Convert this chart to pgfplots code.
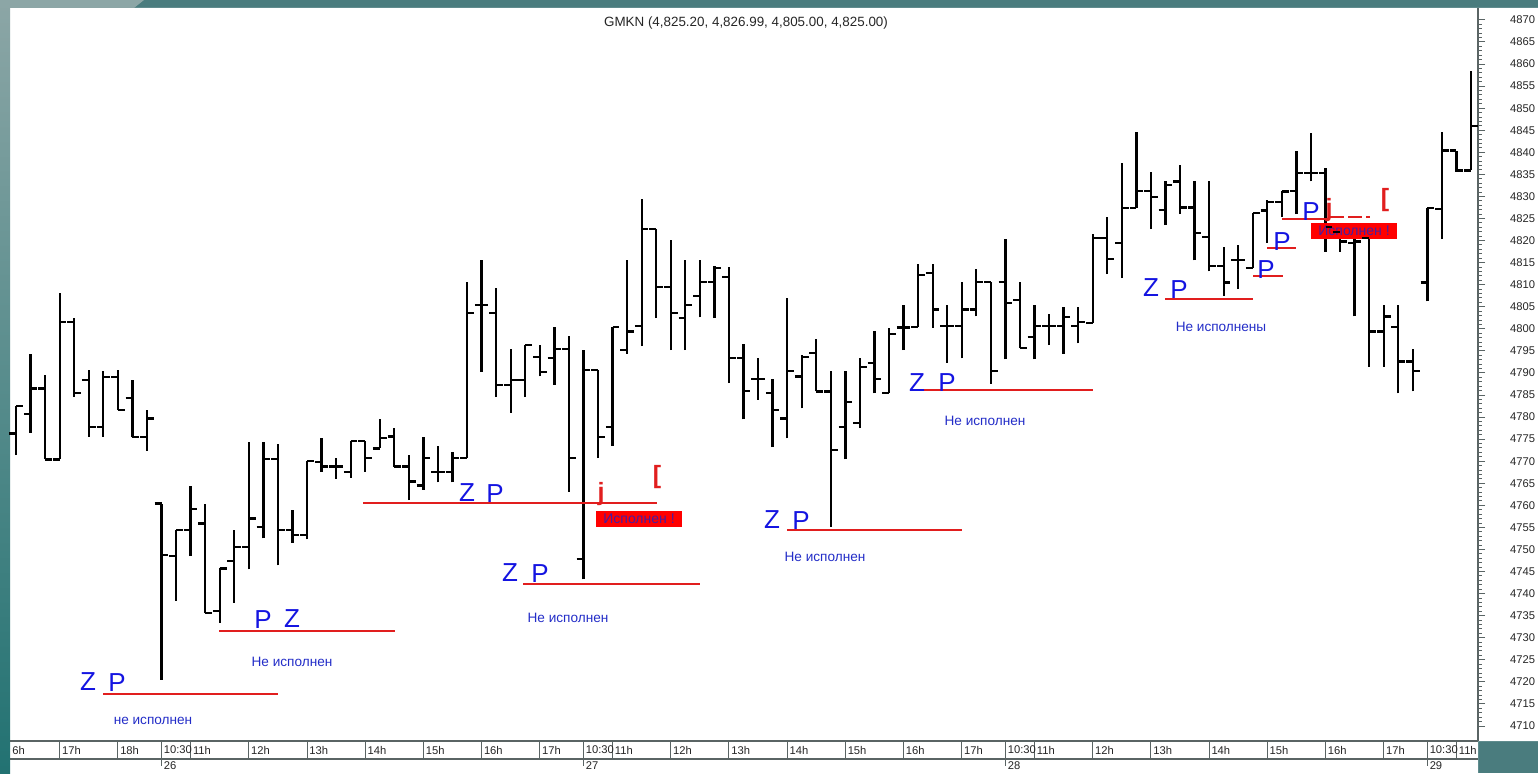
\documentclass[border=0pt]{standalone}
\usepackage{pgfplots}
\pgfplotsset{compat=1.18}
\usepackage{pgfplotstable}
\usepackage{fontspec}
\setmainfont{Liberation Sans}
\definecolor{frameteal}{RGB}{74,124,126}
\definecolor{frametop}{RGB}{140,166,166}
\definecolor{framebot}{RGB}{34,114,114}
\definecolor{zblue}{RGB}{20,20,225}
\definecolor{lblue}{RGB}{35,45,200}
\definecolor{lvlred}{RGB}{225,30,30}
\definecolor{boxtxt}{RGB}{70,30,160}
\definecolor{axgray}{RGB}{90,100,100}

\tikzset{
  zp/.style={text=zblue, font=\fontsize{13}{13}\selectfont, inner sep=0pt},
  ni/.style={text=lblue, font=\fontsize{6.8}{7}\selectfont, inner sep=0pt},
  rs/.style={text=lvlred, font=\fontsize{12.5}{13}\selectfont\bfseries, inner sep=0pt},
  bt/.style={text=boxtxt, font=\fontsize{7}{7}\selectfont, inner sep=0pt},
  hl/.style={font=\fontsize{5.6}{6}\selectfont, text=black!85, anchor=west, inner sep=0.5pt},
}

\pgfdeclareplotmark{ohlcopen}{\pgfpathmoveto{\pgfqpoint{-3.4pt}{0pt}}\pgfpathlineto{\pgfqpoint{0pt}{0pt}}\pgfusepathqstroke}
\pgfdeclareplotmark{ohlcclose}{\pgfpathmoveto{\pgfqpoint{0pt}{0pt}}\pgfpathlineto{\pgfqpoint{3.4pt}{0pt}}\pgfusepathqstroke}

% bar index n (15-minute bars), open, high, low, close
\pgfplotstableread{
n o h l c
-10 4776.3 4782.5 4771.4 4782.5
-9 4780.7 4794.4 4776.4 4786.5
-8 4786.5 4789.5 4770.4 4770.4
-7 4770.4 4808.2 4770.4 4801.6
-6 4801.6 4802.5 4784.6 4785.5
-5 4788.4 4790.6 4775.5 4777.8
-4 4777.8 4790.5 4775.5 4789.0
-3 4789.0 4790.6 4781.6 4781.6
-2 4784.4 4788.5 4775.4 4775.4
-1 4775.4 4781.6 4772.4 4779.7
0 4760.4 4760.4 4720.5 4748.7
1 4748.5 4754.4 4738.4 4754.4
2 4754.4 4764.3 4748.5 4759.2
3 4755.9 4760.4 4735.6 4735.6
4 4736.1 4745.7 4733.4 4745.7
5 4747.4 4754.4 4737.9 4750.6
6 4750.6 4774.4 4745.5 4757.0
7 4755.1 4774.4 4752.5 4770.5
8 4770.5 4773.9 4746.4 4754.4
9 4754.4 4758.9 4751.5 4753.2
10 4753.2 4770.1 4752.3 4770.0
11 4769.9 4775.2 4767.6 4768.8
12 4768.8 4770.7 4766.0 4768.8
13 4767.6 4774.6 4766.3 4774.6
14 4774.6 4774.6 4767.6 4770.8
15 4772.9 4779.6 4772.9 4775.2
16 4775.6 4777.6 4768.8 4768.8
17 4768.8 4771.4 4761.2 4765.4
18 4764.5 4775.6 4763.5 4770.7
19 4767.6 4773.5 4765.2 4767.6
20 4767.6 4772.2 4765.2 4770.7
21 4770.7 4810.7 4770.7 4803.5
22 4805.4 4815.6 4790.3 4805.4
23 4803.5 4809.2 4784.5 4787.3
24 4787.3 4795.4 4781.0 4788.4
25 4788.4 4796.3 4784.5 4796.3
26 4793.7 4796.3 4789.2 4790.3
27 4793.3 4800.5 4787.3 4795.4
28 4795.4 4798.4 4763.1 4770.7
29 4747.8 4795.2 4743.2 4790.7
30 4790.7 4790.7 4770.7 4775.4
31 4777.7 4800.5 4773.5 4800.5
32 4795.2 4815.6 4794.3 4799.4
33 4800.6 4829.4 4796.1 4822.6
34 4822.6 4822.6 4802.4 4809.4
35 4809.4 4820.1 4795.2 4803.5
36 4802.4 4815.6 4795.2 4805.4
37 4807.4 4815.5 4802.6 4810.7
38 4810.7 4814.2 4802.4 4813.7
39 4811.7 4813.9 4787.7 4793.3
40 4793.3 4796.6 4779.5 4786.0
41 4788.6 4793.3 4783.9 4788.6
42 4785.5 4788.6 4773.2 4781.6
43 4779.7 4806.9 4775.2 4790.5
44 4789.2 4794.1 4782.0 4793.7
45 4794.5 4797.6 4785.8 4785.8
46 4785.8 4790.5 4755.2 4772.5
47 4777.7 4790.5 4770.4 4783.5
48 4778.7 4793.5 4777.5 4791.3
49 4792.2 4799.6 4785.4 4788.6
50 4785.5 4800.3 4785.5 4798.8
51 4800.3 4805.4 4795.2 4800.3
52 4800.5 4814.8 4800.5 4812.2
53 4812.7 4814.8 4800.3 4804.4
54 4800.6 4805.4 4792.3 4800.6
55 4800.6 4810.7 4793.3 4804.4
56 4804.4 4813.5 4802.8 4810.7
57 4810.7 4810.7 4787.5 4790.5
58 4810.7 4820.3 4793.1 4805.8
59 4806.5 4810.7 4795.6 4795.6
60 4798.2 4805.4 4793.1 4800.6
61 4800.6 4803.4 4796.3 4800.6
62 4800.6 4805.0 4794.3 4802.6
63 4800.6 4804.9 4796.7 4801.6
64 4801.4 4821.6 4801.4 4820.5
65 4820.5 4825.3 4812.4 4815.8
66 4819.5 4837.5 4811.5 4827.3
67 4827.3 4844.7 4827.3 4831.3
68 4831.3 4835.6 4822.6 4829.8
69 4826.9 4833.4 4823.5 4832.6
70 4833.4 4837.1 4826.0 4827.5
71 4827.5 4833.4 4815.5 4821.7
72 4820.8 4833.4 4813.0 4814.3
73 4814.3 4818.5 4807.5 4810.5
74 4815.6 4819.0 4809.0 4815.6
75 4813.7 4826.3 4813.7 4826.3
76 4826.8 4829.1 4819.5 4828.8
77 4828.8 4831.3 4825.3 4831.1
78 4831.3 4840.4 4826.0 4835.4
79 4835.4 4844.3 4833.4 4835.4
80 4835.4 4836.4 4817.5 4823.0
81 4822.0 4823.5 4817.5 4819.8
82 4819.4 4821.6 4802.8 4819.8
83 4820.5 4820.5 4791.4 4799.4
84 4799.4 4805.4 4791.4 4802.8
85 4800.5 4805.4 4785.4 4792.6
86 4792.6 4795.4 4785.8 4790.5
87 4810.5 4827.3 4806.2 4827.3
88 4827.1 4844.5 4820.3 4840.4
89 4840.4 4840.4 4835.6 4835.9
90 4835.9 4858.5 4835.9 4846.0
}\bars

\begin{document}
\begin{tikzpicture}
\useasboundingbox (0,0) rectangle (769pt,386.5pt);
\fill[frameteal] (0,0) rectangle (769pt,386.5pt);
\fill[white] (5pt,0) -- (739pt,0) -- (739pt,16pt) -- (769pt,16pt) -- (769pt,382.5pt) -- (5pt,382.5pt) -- cycle;
\shade[top color=frametop, bottom color=framebot] (0,0) rectangle (5pt,386.5pt);
\fill[frametop] (0,382.5pt) -- (0,386.5pt) -- (72pt,386.5pt) -- (67pt,382.5pt) -- cycle;
\begin{axis}[
  at={(5pt,16pt)}, anchor=south west,
  scale only axis, width=734pt, height=366.5pt,
  xmin=10, xmax=1478, ymin=4706.6, ymax=4872.7,
  axis x line=none,
  axis y line*=right,
  y axis line style={axgray, line width=0.9pt},
  ytick={4710,4715,...,4870},
  minor y tick num=4,
  ytick align=outside,
  major tick length=3.5pt, minor tick length=1.8pt,
  every tick/.style={axgray, line width=0.5pt},
  yticklabel style={font=\fontsize{5.6}{6}\selectfont, anchor=west, xshift=9pt, text=black!85},
  /pgf/number format/assume math mode=true,
  /pgf/number format/1000 sep={},
  scaled y ticks=false,
  clip=false,
]
% high-low ranges (vertical segments from low to high)
\addplot [black, line width=1.15pt, mark=none, forget plot, -,
  quiver={u=0, v=\thisrow{h}-\thisrow{l}}]
  table [x expr=161.5+14.55*\thisrow{n}, y=l] {\bars};
% open ticks
\addplot [only marks, mark=ohlcopen, mark options={draw=black, line width=1.1pt}, forget plot]
  table [x expr=161.5+14.55*\thisrow{n}, y=o] {\bars};
% close ticks
\addplot [only marks, mark=ohlcclose, mark options={draw=black, line width=1.1pt}, forget plot]
  table [x expr=161.5+14.55*\thisrow{n}, y=c] {\bars};

% order levels
\addplot [lvlred, line width=1pt, forget plot] coordinates {(103,4717.25) (278,4717.25)};
\addplot [lvlred, line width=1pt, forget plot] coordinates {(219,4731.53) (395,4731.53)};
\addplot [lvlred, line width=1pt, forget plot] coordinates {(363,4760.54) (657,4760.54)};
\addplot [lvlred, line width=1pt, forget plot] coordinates {(523,4742.07) (700,4742.07)};
\addplot [lvlred, line width=1pt, forget plot] coordinates {(787,4754.31) (962,4754.31)};
\addplot [lvlred, line width=1pt, forget plot] coordinates {(917,4786.03) (1093,4786.03)};
\addplot [lvlred, line width=1pt, forget plot] coordinates {(1165,4806.70) (1253,4806.70)};
\addplot [lvlred, line width=1pt, forget plot] coordinates {(1253,4811.98) (1283,4811.98)};
\addplot [lvlred, line width=1pt, forget plot] coordinates {(1267,4818.26) (1296,4818.26)};
\addplot [lvlred, line width=1pt, forget plot] coordinates {(1282,4824.83) (1330,4824.83)};
\addplot [lvlred, line width=0.8pt, dash pattern=on 7pt off 2pt, forget plot] coordinates {(1330,4825.35) (1370,4825.35)};

% executed boxes
\fill[red] (596,4758.73) rectangle (682,4755.10);
\node[bt] at (639,4756.91) {Исполнен !};
\fill[red] (1311,4824.0) rectangle (1397,4820.37);
\node[bt] at (1354,4822.18) {Исполнен !};

% letters
\node[zp] at (88,4719.97) {Z};
\node[zp] at (117,4719.75) {P};
\node[zp] at (263,4734.02) {P};
\node[zp] at (292,4734.25) {Z};
\node[zp] at (467,4762.80) {Z};
\node[zp] at (495,4762.58) {P};
\node[zp] at (510,4744.67) {Z};
\node[zp] at (540,4744.44) {P};
\node[zp] at (772,4756.68) {Z};
\node[zp] at (801,4756.46) {P};
\node[zp] at (917,4787.73) {Z};
\node[zp] at (947,4787.73) {P};
\node[zp] at (1151,4809.26) {Z};
\node[zp] at (1179,4808.81) {P};
\node[zp] at (1266,4813.34) {P};
\node[zp] at (1282,4819.69) {P};
\node[zp] at (1311,4826.49) {P};
\node[rs] at (601,4762.58) {j};
\node[rs] at (657,4766.43) {[};
\node[rs] at (1329,4826.94) {j};
\node[rs] at (1385,4829.2) {[};

% status texts
\node[ni] at (153,4711.13) {не исполнен};
\node[ni] at (292,4724.50) {Не исполнен};
\node[ni] at (568,4734.47) {Не исполнен};
\node[ni] at (825,4748.30) {Не исполнен};
\node[ni] at (985,4779.12) {Не исполнен};
\node[ni] at (1221,4800.42) {Не исполнены};

% title
\node[font=\fontsize{6.7}{7}\selectfont, text=black!85] at (746,4869.3) {GMKN (4,825.20, 4,826.99, 4,805.00, 4,825.00)};

% time band
\draw[axgray, line width=0.6pt] (10,4706.6) -- (1478,4706.6);
\draw[axgray, line width=0.6pt] (10,4702.52) -- (1478,4702.52);
\pgfplotsinvokeforeach{59.65,117.85,161.5,190.6,248.8,307.0,365.2,423.4,481.6,539.8,583.45,612.55,670.75,728.95,787.15,845.35,903.55,961.75,1005.4,1034.5,1092.7,1150.9,1209.1,1267.3,1325.5,1383.7,1427.35,1456.45}{
  \draw[axgray, line width=0.5pt] (#1,4706.6) -- (#1,4702.52);
}
\pgfplotsinvokeforeach{161.5,583.45,1005.4,1427.35}{
  \draw[axgray, line width=0.5pt] (#1,4702.52) -- (#1,4700.93);
}
\node[hl] at (11,4704.56) {6h};
\node[hl] at (60.65,4704.56) {17h};
\node[hl] at (118.85,4704.56) {18h};
\node[hl] at (162.5,4704.56) {10:30};
\node[hl] at (191.6,4704.56) {11h};
\node[hl] at (249.8,4704.56) {12h};
\node[hl] at (308.0,4704.56) {13h};
\node[hl] at (366.2,4704.56) {14h};
\node[hl] at (424.4,4704.56) {15h};
\node[hl] at (482.6,4704.56) {16h};
\node[hl] at (540.8,4704.56) {17h};
\node[hl] at (584.45,4704.56) {10:30};
\node[hl] at (613.55,4704.56) {11h};
\node[hl] at (671.75,4704.56) {12h};
\node[hl] at (729.95,4704.56) {13h};
\node[hl] at (788.15,4704.56) {14h};
\node[hl] at (846.35,4704.56) {15h};
\node[hl] at (904.55,4704.56) {16h};
\node[hl] at (962.75,4704.56) {17h};
\node[hl] at (1006.4,4704.56) {10:30};
\node[hl] at (1035.5,4704.56) {11h};
\node[hl] at (1093.7,4704.56) {12h};
\node[hl] at (1151.9,4704.56) {13h};
\node[hl] at (1210.1,4704.56) {14h};
\node[hl] at (1268.3,4704.56) {15h};
\node[hl] at (1326.5,4704.56) {16h};
\node[hl] at (1384.7,4704.56) {17h};
\node[hl] at (1428.35,4704.56) {10:30};
\node[hl] at (1457.45,4704.56) {11h};
\node[hl] at (162.5,4701.0) {26};
\node[hl] at (584.45,4701.0) {27};
\node[hl] at (1006.4,4701.0) {28};
\node[hl] at (1428.35,4701.0) {29};
\end{axis}
\end{tikzpicture}
\end{document}
